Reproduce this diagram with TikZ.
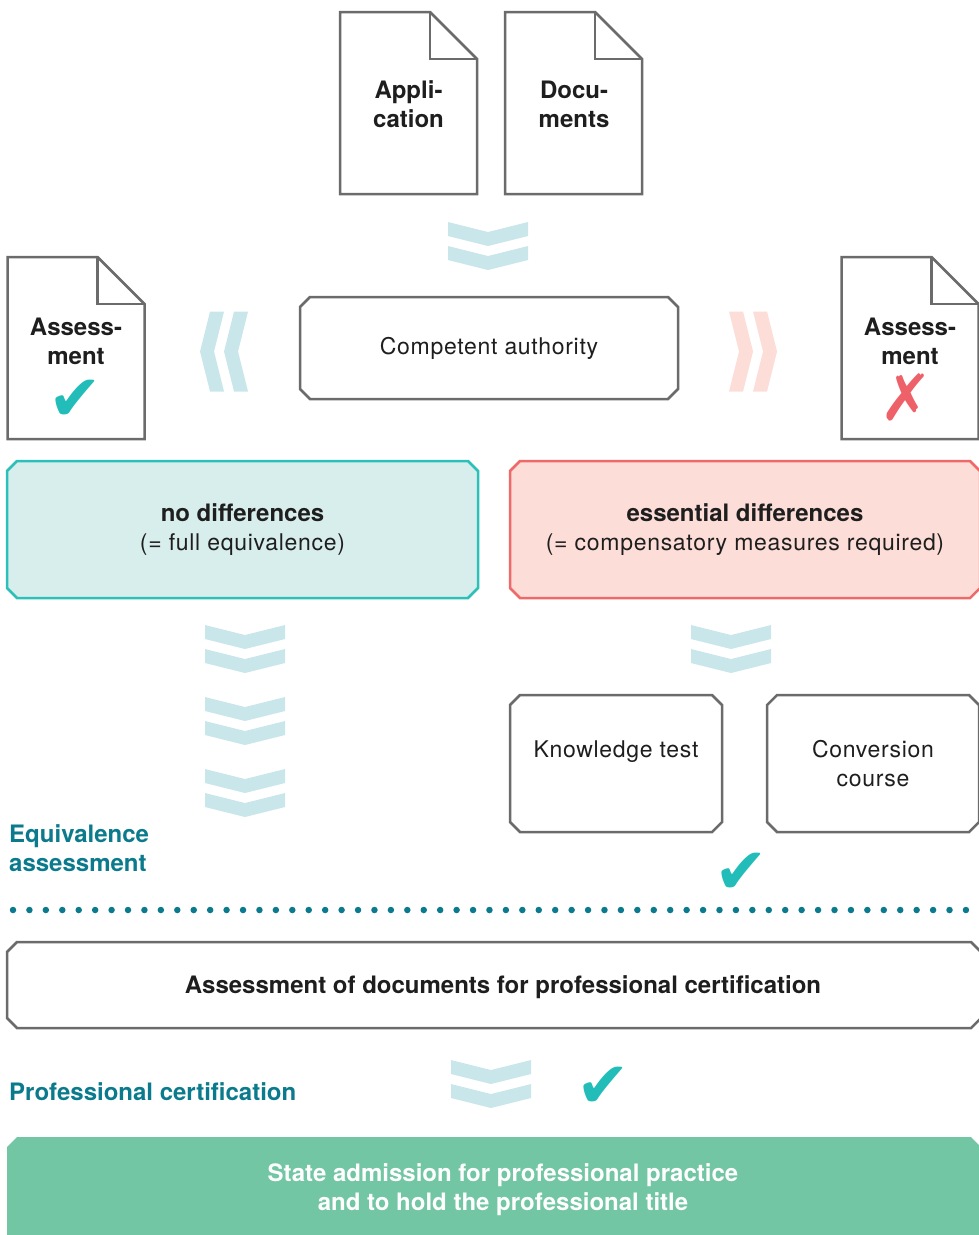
\documentclass[tikz,border=0pt]{standalone}
\usepackage{fontspec}
\setmainfont{TeX Gyre Heros}
\newfontfamily\lightfont[LetterSpace=3]{TeX Gyre Heros}
\newfontfamily\symfont{DejaVu Sans}
\usepackage{xcolor}
\usetikzlibrary{positioning, backgrounds}

\definecolor{linegray}{HTML}{6B6B6B}
\definecolor{inkblack}{HTML}{1E1E1E}
\definecolor{chevblue}{HTML}{C9E7EB}
\definecolor{chevpink}{HTML}{FCDDD7}
\definecolor{tealfill}{HTML}{D8EEEC}
\definecolor{tealline}{HTML}{2CC0B9}
\definecolor{pinkfill}{HTML}{FCDDD8}
\definecolor{redline}{HTML}{EE6A6A}
\definecolor{tickteal}{HTML}{22BDB8}
\definecolor{crossred}{HTML}{EE6169}
\definecolor{darkteal}{HTML}{0A7A8C}
\definecolor{admitgreen}{HTML}{72C6A3}

\newcommand\boxhead[1]{{\normalfont\bfseries\fontsize{24}{29}\selectfont #1}}

\tikzset{
  chevpair/.pic={
    \path[pic actions] (-40,0) -- (0,10) -- (40,0) -- (40,14) -- (0,24) -- (-40,14) -- cycle;
    \path[pic actions] (-40,24) -- (0,34) -- (40,24) -- (40,38) -- (0,48) -- (-40,38) -- cycle;
  }
}

\begin{document}
\begin{tikzpicture}[x=1pt, y=-1pt,
    docnode/.style={rectangle, inner sep=0pt, outer sep=0pt, minimum width=137pt, minimum height=182pt},
    sheet/.style={draw=linegray, line width=2.5pt, fill=white},
    doctext/.style={align=center, text=inkblack, font=\fontsize{24}{29}\selectfont\bfseries},
    box/.style={rectangle, inner sep=0pt, outer sep=0pt, align=center, text=inkblack, font=\lightfont\fontsize{23}{29}\selectfont},
    tick/.style={text=tickteal, font=\symfont\fontsize{64}{64}\selectfont, inner sep=0pt, text height=62pt, text depth=-20pt},
    sidelabel/.style={anchor=west, align=left, text=darkteal, font=\fontsize{24}{29}\selectfont\bfseries, inner sep=0pt},
    dotline/.style={draw=darkteal, line width=6.5pt, line cap=round, dash pattern=on 0pt off 16.43pt}
]
\useasboundingbox (0,0) rectangle (978,1235);

% documents
\node[docnode] (app) at (408.5,103) {};
\node[docnode] (docs) at (573.5,103) {};
\node[docnode] (assok) at (76,348) {};
\node[docnode] (assno) at (910,348) {};
\foreach \d in {app, docs, assok, assno} {
  \draw[sheet] (\d.south west) -- (\d.north west) -- ([xshift=-47pt]\d.north east)
    -- ([yshift=-47pt]\d.north east) -- (\d.south east) -- cycle;
  \draw[sheet, fill=none] ([xshift=-47pt]\d.north east) -- ([xshift=-47pt, yshift=-47pt]\d.north east)
    -- ([yshift=-47pt]\d.north east);
}
\node[doctext] (apptxt) at (408.5,104) {Appli-\\cation};
\node[doctext] (docstxt) at (574,104) {Docu-\\ments};
\node[doctext] (assoktxt) at (76,341) {Assess-\\ment};
\node[doctext] (assnotxt) at (910,341) {Assess-\\ment};
\node[tick] (okmark) at (75,389) {✔};
\node[tick, text=crossred] (nomark) at (906,389) {✗};

% authority and outcomes
\node[box, minimum width=378pt, minimum height=102pt] (auth) at (489,348) {Competent authority};
\node[box, minimum width=471pt, minimum height=137pt] (nodiff) at (242.5,529.5)
  {\boxhead{no differences}\\(= full equivalence)};
\node[box, minimum width=470pt, minimum height=137pt] (essdiff) at (745,529.5)
  {\boxhead{essential differences}\\(= compensatory measures required)};
\node[box, minimum width=212pt, minimum height=137pt] (ktest) at (616,763.5) {Knowledge test\\\mbox{}};
\node[box, minimum width=212pt, minimum height=137pt] (ccourse) at (873,763.5) {Conversion\\course};
\node[tick] (passmark) at (741,862) {✔};

% chevrons
\pic[fill=chevblue] at (488,222) {chevpair};
\pic[fill=chevblue, rotate=-90] at (248,351.5) {chevpair};
\pic[fill=chevpink, rotate=90] at (729,351.5) {chevpair};
\foreach \y in {625, 697, 769}
  \pic[fill=chevblue] at (245,\y) {chevpair};
\pic[fill=chevblue] at (731,625) {chevpair};
\pic[fill=chevblue] at (491,1060) {chevpair};

\node[sidelabel] (equiv) at (9,848.5) {Equivalence\\assessment};
\coordinate (dotl) at (13,910);
\coordinate (dotr) at (966,910);
\draw[dotline] (dotl) -- (dotr);

% certification
\node[box, minimum width=974pt, minimum height=86pt] (docbox) at (494,985) {};
\node[doctext] (docboxtxt) at (503,987) {Assessment of documents for professional certification};
\node[sidelabel] (cert) at (9,1092) {Professional certification};
\node[tick] (certmark) at (603,1076) {✔};
\node[box, minimum width=974pt, minimum height=104pt] (admit) at (494,1189) {};
\node[doctext, text=white] (admittxt) at (503,1190)
  {State admission for professional practice\\and to hold the professional title};

% chamfered outlines behind the text
\begin{scope}[on background layer]
\foreach \b/\f/\l in {auth/white/linegray, nodiff/tealfill/tealline, essdiff/pinkfill/redline,
    ktest/white/linegray, ccourse/white/linegray, docbox/white/linegray}
  \draw[draw=\l, fill=\f, line width=2.5pt]
    ([xshift=10pt]\b.north west) -- ([xshift=-10pt]\b.north east) -- ([yshift=-10pt]\b.north east)
    -- ([yshift=10pt]\b.south east) -- ([xshift=-10pt]\b.south east) -- ([xshift=10pt]\b.south west)
    -- ([yshift=10pt]\b.south west) -- ([yshift=-10pt]\b.north west) -- cycle;
\fill[admitgreen] (admit.south west) -- ([yshift=-10pt]admit.north west) -- ([xshift=10pt]admit.north west)
  -- ([xshift=-10pt]admit.north east) -- ([yshift=-10pt]admit.north east) -- (admit.south east) -- cycle;
\end{scope}
\end{tikzpicture}
\end{document}
